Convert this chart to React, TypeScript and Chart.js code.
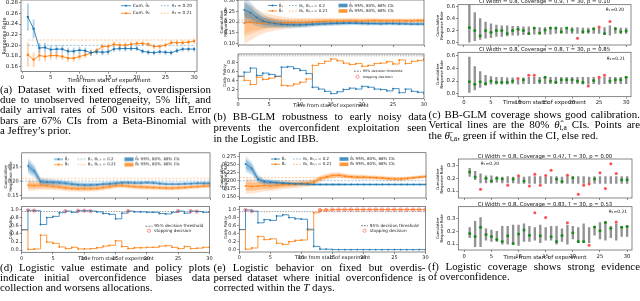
import React, { useEffect, useRef } from 'react';
import { Chart, registerables } from 'chart.js';
Chart.register(...registerables);

const BLUE = '#1f77b4';
const ORANGE = '#ff7f0e';
const GREEN = '#1a8a1a';
const RED = '#ff4d4d';
const FONT = "'DejaVu Sans', sans-serif";
const SERIF = "'Liberation Serif', 'Times New Roman', serif";

// ---------- shared axes ----------
const DAYS = [1, 2, 3, 4, 5, 6, 7, 8, 9, 10, 11, 12, 13, 14, 15, 16, 17, 18, 19, 20, 21, 22, 23, 24, 25, 26, 27, 28, 29, 30];
const DAYS0 = [0, 1, 2, 3, 4, 5, 6, 7, 8, 9, 10, 11, 12, 13, 14, 15, 16, 17, 18, 19, 20, 21, 22, 23, 24, 25, 26, 27, 28, 29, 30];
const X_TICKS = [0, 5, 10, 15, 20, 25, 30];
const THETA = [0.20, 0.21];
const THRESHOLD = 0.95;
const CI_LEVELS = [1.0, 0.654, 0.507]; // 95%, 80%, 68% relative to 95% half-width

// ---------- (a) ----------
const A_Y_TICKS = [0.16, 0.18, 0.20, 0.22, 0.24, 0.26, 0.28];
const A_MEAN1 = [0.253, 0.231, 0.195, 0.196, 0.192, 0.193, 0.193, 0.189, 0.189, 0.191, 0.190, 0.186, 0.188, 0.187, 0.188, 0.193, 0.194, 0.194, 0.194, 0.194, 0.189, 0.187, 0.186, 0.188, 0.187, 0.186, 0.190, 0.193, 0.193, 0.193];
const A_ERR1 = [0.025, 0.017, 0.009, 0.008, 0.007, 0.007, 0.006, 0.006, 0.006, 0.006, 0.005, 0.005, 0.005, 0.005, 0.005, 0.005, 0.005, 0.005, 0.004, 0.004, 0.004, 0.004, 0.004, 0.004, 0.004, 0.004, 0.004, 0.004, 0.004, 0.004];
const A_MEAN2 = [0.1825, 0.173, 0.181, 0.179, 0.181, 0.181, 0.179, 0.176, 0.176, 0.179, 0.182, 0.1855, 0.190, 0.198, 0.198, 0.202, 0.2005, 0.2005, 0.202, 0.2035, 0.2035, 0.202, 0.198, 0.198, 0.2005, 0.205, 0.205, 0.205, 0.206, 0.208];
const A_ERR2 = [0.022, 0.013, 0.010, 0.008, 0.007, 0.007, 0.006, 0.006, 0.006, 0.006, 0.005, 0.005, 0.005, 0.005, 0.005, 0.005, 0.005, 0.005, 0.004, 0.004, 0.004, 0.004, 0.004, 0.004, 0.004, 0.004, 0.004, 0.004, 0.004, 0.004];

// ---------- (b) ----------
const B_Y_TICKS = [0.10, 0.15, 0.20, 0.25, 0.30];
const POL_B_TICKS = [0.2, 0.4, 0.6, 0.8];
const B_MEAN1 = [0.258, 0.245, 0.222, 0.205, 0.198, 0.193, 0.190, 0.188, 0.187, 0.187, 0.188, 0.190, 0.191, 0.192, 0.193, 0.194, 0.195, 0.195, 0.195, 0.194, 0.193, 0.193, 0.192, 0.193, 0.193, 0.192, 0.192, 0.191, 0.191, 0.191];
const B_HW1 = [0.060, 0.050, 0.040, 0.032, 0.026, 0.022, 0.019, 0.017, 0.016, 0.015, 0.014, 0.013, 0.012, 0.012, 0.011, 0.011, 0.011, 0.010, 0.010, 0.010, 0.010, 0.009, 0.009, 0.009, 0.009, 0.009, 0.008, 0.008, 0.008, 0.008];
const B_MEAN2 = [0.195, 0.200, 0.196, 0.195, 0.197, 0.196, 0.195, 0.196, 0.197, 0.198, 0.199, 0.201, 0.203, 0.204, 0.205, 0.205, 0.205, 0.206, 0.206, 0.205, 0.206, 0.207, 0.206, 0.206, 0.206, 0.206, 0.206, 0.206, 0.207, 0.207];
const B_HW2 = [0.100, 0.085, 0.065, 0.050, 0.042, 0.036, 0.031, 0.027, 0.024, 0.022, 0.020, 0.019, 0.018, 0.017, 0.016, 0.015, 0.015, 0.014, 0.014, 0.013, 0.013, 0.013, 0.012, 0.012, 0.012, 0.012, 0.011, 0.011, 0.011, 0.011];
const B_POL1 = [0.50, 0.59, 0.68, 0.52, 0.57, 0.54, 0.50, 0.70, 0.71, 0.67, 0.63, 0.56, 0.26, 0.22, 0.17, 0.12, 0.16, 0.21, 0.24, 0.22, 0.28, 0.26, 0.22, 0.21, 0.18, 0.23, 0.14, 0.22, 0.17, 0.15, 0.12];
const B_POL2 = [0.50, 0.41, 0.32, 0.48, 0.43, 0.46, 0.50, 0.30, 0.29, 0.33, 0.37, 0.44, 0.74, 0.78, 0.83, 0.88, 0.84, 0.79, 0.76, 0.78, 0.72, 0.74, 0.78, 0.79, 0.82, 0.77, 0.86, 0.78, 0.83, 0.85, 0.88];

// ---------- (c) ----------
const COV_C_TICKS = [0.0, 0.2, 0.4, 0.6];
const C1_MEAN = [0.25, 0.20, 0.11, 0.20, 0.17, 0.20, 0.20, 0.15, 0.20, 0.22, 0.20, 0.15, 0.24, 0.16, 0.21, 0.24, 0.24, 0.18, 0.24, 0.21, 0.07, 0.18, 0.19, 0.23, 0.26, 0.15, 0.35, 0.23, 0.18, 0.19];
const C1_LO = [0.00, 0.03, 0.05, 0.07, 0.08, 0.10, 0.10, 0.11, 0.12, 0.12, 0.13, 0.13, 0.14, 0.14, 0.14, 0.14, 0.15, 0.15, 0.15, 0.15, 0.15, 0.15, 0.15, 0.15, 0.15, 0.13, 0.12, 0.15, 0.15, 0.15];
const C1_HI = [0.63, 0.50, 0.40, 0.34, 0.31, 0.29, 0.28, 0.28, 0.27, 0.27, 0.26, 0.26, 0.25, 0.25, 0.25, 0.25, 0.25, 0.25, 0.25, 0.25, 0.25, 0.24, 0.24, 0.24, 0.24, 0.25, 0.28, 0.25, 0.24, 0.24];
const C2_MEAN = [0.19, 0.15, 0.19, 0.16, 0.20, 0.18, 0.18, 0.18, 0.20, 0.24, 0.22, 0.29, 0.29, 0.20, 0.26, 0.20, 0.18, 0.22, 0.22, 0.22, 0.20, 0.18, 0.12, 0.21, 0.26, 0.29, 0.20, 0.22, 0.22, 0.26];
const C2_LO = [0.02, 0.06, 0.10, 0.13, 0.15, 0.15, 0.15, 0.15, 0.16, 0.15, 0.16, 0.16, 0.16, 0.16, 0.16, 0.16, 0.16, 0.16, 0.16, 0.16, 0.16, 0.15, 0.15, 0.16, 0.15, 0.16, 0.16, 0.16, 0.16, 0.16];
const C2_HI = [0.58, 0.43, 0.35, 0.29, 0.27, 0.26, 0.26, 0.25, 0.25, 0.22, 0.25, 0.26, 0.26, 0.26, 0.27, 0.26, 0.26, 0.26, 0.26, 0.26, 0.26, 0.26, 0.26, 0.26, 0.25, 0.26, 0.26, 0.26, 0.26, 0.27];

// ---------- (d) ----------
const D_Y_TICKS = [0.15, 0.20, 0.25];
const POL_TICKS = [0.0, 0.2, 0.4, 0.6, 0.8, 1.0];
const D_MEAN1 = [0.254, 0.236, 0.199, 0.197, 0.196, 0.195, 0.193, 0.190, 0.188, 0.187, 0.187, 0.188, 0.190, 0.191, 0.193, 0.195, 0.195, 0.194, 0.194, 0.195, 0.194, 0.192, 0.190, 0.190, 0.190, 0.191, 0.192, 0.193, 0.193, 0.193];
const D_HW1 = [0.028, 0.022, 0.014, 0.012, 0.011, 0.010, 0.009, 0.009, 0.008, 0.008, 0.008, 0.007, 0.007, 0.007, 0.007, 0.006, 0.006, 0.006, 0.006, 0.006, 0.006, 0.006, 0.005, 0.005, 0.005, 0.005, 0.005, 0.005, 0.005, 0.005];
const D_MEAN2 = [0.186, 0.185, 0.186, 0.184, 0.182, 0.180, 0.177, 0.175, 0.174, 0.174, 0.174, 0.175, 0.178, 0.181, 0.184, 0.185, 0.183, 0.181, 0.180, 0.179, 0.178, 0.177, 0.176, 0.176, 0.177, 0.178, 0.180, 0.181, 0.183, 0.184];
const D_HW2 = [0.020, 0.018, 0.016, 0.014, 0.013, 0.012, 0.012, 0.011, 0.011, 0.011, 0.010, 0.010, 0.010, 0.010, 0.009, 0.009, 0.009, 0.009, 0.009, 0.009, 0.009, 0.008, 0.008, 0.008, 0.008, 0.008, 0.008, 0.008, 0.008, 0.008];
const D_POL1 = [0.50, 0.98, 0.97, 0.63, 0.80, 0.83, 0.92, 0.96, 0.93, 0.97, 0.97, 0.96, 0.94, 0.90, 0.88, 0.77, 0.91, 0.96, 0.94, 0.94, 0.93, 0.93, 0.90, 0.89, 0.93, 0.96, 0.91, 0.96, 0.95, 0.93, 0.93];
const D_POL2 = [0.50, 0.02, 0.03, 0.37, 0.20, 0.17, 0.08, 0.04, 0.07, 0.03, 0.03, 0.04, 0.06, 0.10, 0.12, 0.23, 0.09, 0.04, 0.06, 0.06, 0.07, 0.07, 0.10, 0.11, 0.07, 0.04, 0.09, 0.04, 0.05, 0.07, 0.07];
const D_STOP1 = [1, 2, 7, 9, 10, 11, 17, 25, 27, 28];

// ---------- (e) ----------
const E_Y_TICKS = [0.150, 0.175, 0.200, 0.225, 0.250, 0.275];
const E_MEAN1 = [0.252, 0.238, 0.205, 0.197, 0.195, 0.194, 0.192, 0.191, 0.190, 0.190, 0.189, 0.188, 0.188, 0.188, 0.188, 0.188, 0.188, 0.188, 0.188, 0.188, 0.188, 0.188, 0.188, 0.188, 0.188, 0.188, 0.188, 0.188, 0.188, 0.188];
const E_HW1 = [0.025, 0.020, 0.013, 0.010, 0.009, 0.008, 0.007, 0.007, 0.006, 0.006, 0.006, 0.005, 0.005, 0.005, 0.005, 0.005, 0.004, 0.004, 0.004, 0.004, 0.004, 0.004, 0.004, 0.004, 0.004, 0.004, 0.004, 0.004, 0.004, 0.004];
const E_MEAN2 = [0.184, 0.182, 0.183, 0.185, 0.183, 0.185, 0.187, 0.188, 0.189, 0.191, 0.192, 0.196, 0.206, 0.212, 0.216, 0.217, 0.214, 0.212, 0.211, 0.211, 0.210, 0.209, 0.208, 0.206, 0.205, 0.205, 0.207, 0.209, 0.211, 0.213];
const E_HW2 = [0.025, 0.022, 0.020, 0.018, 0.016, 0.015, 0.014, 0.013, 0.012, 0.012, 0.011, 0.011, 0.010, 0.010, 0.009, 0.009, 0.008, 0.008, 0.008, 0.008, 0.007, 0.007, 0.007, 0.007, 0.007, 0.007, 0.006, 0.006, 0.006, 0.006];
const E_POL1 = [0.50, 0.99, 0.96, 0.67, 0.75, 0.73, 0.84, 0.87, 0.80, 0.77, 0.76, 0.51, 0.08, 0.01, 0.01, 0.00, 0.00, 0.00, 0.00, 0.00, 0.00, 0.00, 0.00, 0.00, 0.00, 0.00, 0.00, 0.00, 0.00, 0.00, 0.00];
const E_POL2 = [0.50, 0.01, 0.04, 0.33, 0.25, 0.27, 0.16, 0.13, 0.20, 0.23, 0.24, 0.49, 0.92, 0.99, 0.99, 1.00, 1.00, 1.00, 1.00, 1.00, 1.00, 1.00, 1.00, 1.00, 1.00, 1.00, 1.00, 1.00, 1.00, 1.00, 1.00];
const E_STOP1 = [1, 2];
const E_STOP2 = [13, 14, 15, 16, 17, 18, 19, 20, 21, 22, 23, 24, 25, 26, 27, 28, 29, 30];

// ---------- (f) ----------
const COV_F_TICKS = [0.1, 0.2, 0.3];
const F1_MEAN = [0.25, 0.21, 0.115, 0.20, 0.18, 0.20, 0.195, 0.145, 0.195, 0.22, 0.18, 0.14, 0.233, 0.145, 0.222, 0.265, 0.195, 0.175, 0.225, 0.205, 0.075, 0.145, 0.155, 0.195, 0.245, 0.12, 0.315, 0.238, 0.19, 0.19];
const F1_LO = [0.215, 0.19, 0.165, 0.165, 0.165, 0.17, 0.165, 0.165, 0.165, 0.16, 0.16, 0.16, 0.16, 0.16, 0.16, 0.16, 0.16, 0.16, 0.16, 0.16, 0.16, 0.16, 0.16, 0.16, 0.16, 0.16, 0.16, 0.16, 0.16, 0.16];
const F1_HI = [0.28, 0.255, 0.235, 0.22, 0.22, 0.215, 0.21, 0.215, 0.21, 0.21, 0.21, 0.215, 0.215, 0.215, 0.21, 0.215, 0.215, 0.21, 0.215, 0.215, 0.215, 0.215, 0.21, 0.215, 0.215, 0.215, 0.215, 0.215, 0.215, 0.215];
const F2_MEAN = [0.184, 0.16, 0.232, 0.175, 0.16, 0.135, 0.12, 0.165, 0.105, 0.18, 0.21, 0.17, 0.347, 0.165, 0.31, 0.158, 0.12, 0.168, 0.268, 0.19, 0.12, 0.12, 0.09, 0.235, 0.205, 0.27, 0.225, 0.275, 0.232, 0.238];
const F2_LO = [0.15, 0.08, 0.08, 0.13, 0.12, 0.12, 0.10, 0.10, 0.10, 0.09, 0.12, 0.12, 0.13, 0.11, 0.13, 0.13, 0.10, 0.12, 0.10, 0.14, 0.11, 0.11, 0.11, 0.17, 0.14, 0.13, 0.15, 0.13, 0.16, 0.16];
const F2_HI = [0.23, 0.28, 0.31, 0.22, 0.21, 0.20, 0.24, 0.24, 0.25, 0.25, 0.26, 0.24, 0.23, 0.25, 0.23, 0.24, 0.24, 0.22, 0.25, 0.24, 0.23, 0.26, 0.23, 0.24, 0.27, 0.28, 0.24, 0.26, 0.24, 0.245];

// ---------- helpers ----------
function rgba(hex: string, a: number) {
  const n = parseInt(hex.slice(1), 16);
  return `rgba(${(n >> 16) & 255},${(n >> 8) & 255},${n & 255},${a})`;
}
const pts = (xs: number[], ys: number[]) => xs.map((x, i) => ({ x, y: ys[i] }));

function meanLine(ys: number[], color: string, r = 0.9, w = 0.8) {
  return { type: 'line', data: pts(DAYS, ys), borderColor: color, backgroundColor: color, borderWidth: w, pointRadius: r, pointBorderWidth: 0, pointBackgroundColor: color, tension: 0, order: 1 };
}
function hline(v: number, x0: number, x1: number, color: string, dash = [2, 1.5], w = 0.7) {
  return { type: 'line', data: [{ x: x0, y: v }, { x: x1, y: v }], borderColor: color, borderWidth: w, borderDash: dash, pointRadius: 0, order: 3 };
}
function bands(mean: number[], hw: number[], color: string, alpha = 0.2) {
  const out: any[] = [];
  CI_LEVELS.forEach((f) => {
    out.push({ type: 'line', data: pts(DAYS, mean.map((m, i) => m - hw[i] * f)), borderWidth: 0, pointRadius: 0, fill: false, order: 10 });
    out.push({ type: 'line', data: pts(DAYS, mean.map((m, i) => m + hw[i] * f)), borderWidth: 0, pointRadius: 0, fill: '-1', backgroundColor: rgba(color, alpha), order: 10 });
  });
  return out;
}
function errBars(mean: number[], err: number[], color: string) {
  return { type: 'bar', data: DAYS.map((x, i) => ({ x, y: [mean[i] - err[i], mean[i] + err[i]] })), backgroundColor: rgba(color, 0.35), borderWidth: 0, barThickness: 1.2, grouped: false, order: 5 };
}
function stepLine(ys: number[], color: string) {
  return { type: 'line', data: pts(DAYS0, ys), stepped: 'before', borderColor: color, borderWidth: 0.8, pointRadius: 0.9, pointBorderWidth: 0, pointBackgroundColor: color, order: 2 };
}
function stops(days: number[], pol: number[]) {
  return { type: 'scatter', data: days.map((d) => ({ x: d, y: pol[d] })), pointRadius: 1.7, pointBorderWidth: 0.6, pointBorderColor: 'rgba(255,60,60,0.9)', pointBackgroundColor: 'rgba(0,0,0,0)', order: 0 };
}
function coverage(mean: number[], lo: number[], hi: number[]) {
  return [
    { type: 'bar', data: DAYS.map((x, i) => ({ x, y: [lo[i], hi[i]] })), backgroundColor: 'rgba(110,110,110,0.75)', borderWidth: 0, barThickness: 1.7, grouped: false, order: 5 },
    { type: 'scatter', data: pts(DAYS, mean), pointRadius: 1.5, pointBorderWidth: 0, pointBackgroundColor: mean.map((m, i) => (m >= lo[i] && m <= hi[i] ? GREEN : RED)), order: 1 },
  ];
}

type TextItem = { text: string; x: number; y: number; size: number; rot?: boolean; align?: CanvasTextAlign; color?: string };
type LegItem = { kind: string; color: string; label: string; x: number; y: number; w: number; size: number };
type Spec = {
  frame: number[]; box: number[];
  x: { min: number; max: number; ticks: number[]; labels: boolean };
  y: { min: number; max: number; ticks: number[]; dec: number };
  tickSize: number; datasets: any[]; texts?: TextItem[]; legend?: LegItem[];
};

function drawLegendItem(ctx: CanvasRenderingContext2D, it: LegItem, ox: number, oy: number) {
  const x = it.x - ox, y = it.y - oy;
  ctx.save();
  if (it.kind === 'line') {
    ctx.strokeStyle = it.color; ctx.lineWidth = 0.8;
    ctx.beginPath(); ctx.moveTo(x, y); ctx.lineTo(x + it.w, y); ctx.stroke();
    ctx.fillStyle = it.color; ctx.beginPath(); ctx.arc(x + it.w / 2, y, 1, 0, Math.PI * 2); ctx.fill();
  } else if (it.kind === 'dash') {
    ctx.strokeStyle = it.color; ctx.lineWidth = 0.8; ctx.setLineDash([1.8, 1.2]);
    ctx.beginPath(); ctx.moveTo(x, y); ctx.lineTo(x + it.w, y); ctx.stroke();
  } else if (it.kind === 'box') {
    ctx.fillStyle = it.color; ctx.fillRect(x, y - 1.8, it.w, 3.6);
  } else if (it.kind === 'circle') {
    ctx.strokeStyle = it.color; ctx.lineWidth = 0.6;
    ctx.beginPath(); ctx.arc(x + it.w / 2, y, 1.6, 0, Math.PI * 2); ctx.stroke();
  }
  ctx.setLineDash([]);
  ctx.fillStyle = '#222'; ctx.font = `${it.size}px ${FONT}`; ctx.textBaseline = 'middle'; ctx.textAlign = 'left';
  ctx.fillText(it.label, x + it.w + 1.8, y);
  ctx.restore();
}
function drawText(ctx: CanvasRenderingContext2D, t: TextItem, ox: number, oy: number) {
  ctx.save();
  ctx.fillStyle = t.color || '#111';
  ctx.font = `${t.size}px ${FONT}`;
  ctx.textBaseline = 'middle';
  ctx.textAlign = t.align || 'center';
  ctx.translate(t.x - ox, t.y - oy);
  if (t.rot) ctx.rotate(-Math.PI / 2);
  ctx.fillText(t.text, 0, 0);
  ctx.restore();
}

function Panel({ spec }: { spec: Spec }) {
  const ref = useRef<HTMLCanvasElement>(null);
  const [bl, bt, br, bb] = spec.box;
  const [fl, ft, fr, fb] = spec.frame;
  useEffect(() => {
    const deco = {
      id: 'deco',
      afterDraw(chart: any) {
        const ctx = chart.ctx, a = chart.chartArea;
        ctx.save();
        ctx.strokeStyle = '#555'; ctx.lineWidth = 0.7;
        ctx.strokeRect(a.left, a.top, a.right - a.left, a.bottom - a.top);
        (spec.legend || []).forEach((it) => drawLegendItem(ctx, it, bl, bt));
        (spec.texts || []).forEach((t) => drawText(ctx, t, bl, bt));
        ctx.restore();
      },
    };
    const tickFont = { family: FONT, size: spec.tickSize };
    const grid = { display: true, drawOnChartArea: false, drawTicks: true, tickLength: 2, color: '#444', lineWidth: 0.6, offset: false };
    const chart = new Chart(ref.current as HTMLCanvasElement, {
      type: 'scatter',
      data: { datasets: spec.datasets },
      options: {
        animation: false, responsive: false, events: [],
        layout: { padding: { top: ft - bt, right: br - fr, left: 0, bottom: 0 } },
        plugins: { legend: { display: false }, tooltip: { enabled: false }, title: { display: false } },
        scales: {
          x: {
            type: 'linear', min: spec.x.min, max: spec.x.max, offset: false, bounds: 'data', grid, border: { display: false },
            ticks: { autoSkip: false, maxRotation: 0, minRotation: 0, padding: 1, font: tickFont, color: '#222', callback: (v: any) => (spec.x.labels ? String(v) : '') },
            afterBuildTicks: (s: any) => { s.ticks = spec.x.ticks.map((v) => ({ value: v })); },
            afterFit: (s: any) => { s.height = bb - fb; s.paddingLeft = 0; s.paddingRight = 0; s.paddingTop = 0; s.paddingBottom = 0; },
          },
          y: {
            type: 'linear', min: spec.y.min, max: spec.y.max, offset: false, bounds: 'data', grid, border: { display: false },
            ticks: { autoSkip: false, padding: 1, font: tickFont, color: '#222', callback: (v: any) => Number(v).toFixed(spec.y.dec) },
            afterBuildTicks: (s: any) => { s.ticks = spec.y.ticks.map((v) => ({ value: v })); },
            afterFit: (s: any) => { s.width = fl - bl; s.paddingLeft = 0; s.paddingRight = 0; s.paddingTop = 0; s.paddingBottom = 0; },
          },
        },
      } as any,
      plugins: [deco],
    } as any);
    return () => chart.destroy();
  }, []);
  return <canvas ref={ref} width={br - bl} height={bb - bt} style={{ position: 'absolute', left: bl, top: bt, width: br - bl, height: bb - bt }} />;
}

// ---------- labels ----------
const H1 = 'θ\u0302\u2081';
const H2 = 'θ\u0302\u2082';
const XT = 'Time from start of experiment';

const topLegend = (x1: number, x2: number, x3: number, y1: number, y2: number): LegItem[] => [
  { kind: 'line', color: BLUE, label: H1, x: x1, y: y1, w: 9, size: 4 },
  { kind: 'line', color: ORANGE, label: H2, x: x1, y: y2, w: 9, size: 4 },
  { kind: 'dash', color: rgba(BLUE, 0.6), label: 'θ\u2081, θ\u2081,\u2081 = 0.2', x: x2, y: y1, w: 8.5, size: 4 },
  { kind: 'dash', color: rgba(ORANGE, 0.6), label: 'θ\u2082, θ\u2082,\u2081 = 0.21', x: x2, y: y2, w: 8.5, size: 4 },
  { kind: 'box', color: rgba(BLUE, 0.8), label: H1 + ' 95%, 80%, 68% CIs', x: x3, y: y1, w: 9, size: 4 },
  { kind: 'box', color: rgba(ORANGE, 0.8), label: H2 + ' 95%, 80%, 68% CIs', x: x3, y: y2, w: 9, size: 4 },
];
const polLegend = (x: number, y1: number, y2: number, size: number): LegItem[] => [
  { kind: 'dash', color: '#555', label: '95% decision threshold', x, y: y1, w: 7, size },
  { kind: 'circle', color: 'rgba(255,60,60,0.9)', label: 'stopping decision', x, y: y2, w: 7, size },
];

const SPECS: Spec[] = [
  // (a)
  {
    frame: [21, -1, 197, 71.5], box: [0, -4, 206, 86],
    x: { min: -0.2, max: 30.5, ticks: X_TICKS, labels: true },
    y: { min: 0.151, max: 0.285, ticks: A_Y_TICKS, dec: 2 }, tickSize: 5.5,
    datasets: [
      meanLine(A_MEAN1, BLUE, 1.2, 0.9), meanLine(A_MEAN2, ORANGE, 1.2, 0.9),
      hline(THETA[0], 1, 30, rgba(BLUE, 0.55), [2.2, 1.6], 0.8), hline(THETA[1], 1, 30, rgba(ORANGE, 0.55), [2.2, 1.6], 0.8),
      errBars(A_MEAN1, A_ERR1, BLUE), errBars(A_MEAN2, A_ERR2, ORANGE),
    ],
    legend: [
      { kind: 'line', color: BLUE, label: 'Cum. ' + H1, x: 121, y: 5.7, w: 10, size: 4.3 },
      { kind: 'line', color: ORANGE, label: 'Cum. ' + H2, x: 121, y: 13.3, w: 10, size: 4.3 },
      { kind: 'dash', color: rgba(BLUE, 0.6), label: 'θ\u2081 = 0.20', x: 161, y: 5.7, w: 9, size: 4.3 },
      { kind: 'dash', color: rgba(ORANGE, 0.6), label: 'θ\u2082 = 0.21', x: 161, y: 13.3, w: 9, size: 4.3 },
    ],
    texts: [
      { text: 'Response Rate', x: 5, y: 36, size: 5, rot: true },
      { text: XT, x: 109, y: 80.5, size: 5.5 },
    ],
  },
  // (b) top
  {
    frame: [238, -1, 424, 46.5], box: [215, -4, 430, 49],
    x: { min: 0, max: 30, ticks: X_TICKS, labels: false },
    y: { min: 0.092, max: 0.3045, ticks: B_Y_TICKS, dec: 2 }, tickSize: 5,
    datasets: [
      meanLine(B_MEAN1, BLUE), meanLine(B_MEAN2, ORANGE),
      hline(THETA[0], 0, 30, rgba(BLUE, 0.6)), hline(THETA[1], 0, 30, rgba(ORANGE, 0.6)),
      ...bands(B_MEAN1, B_HW1, BLUE), ...bands(B_MEAN2, B_HW2, ORANGE),
    ],
    legend: topLegend(268, 289, 338.5, 5.5, 11),
    texts: [
      { text: 'Cumulative', x: 221.5, y: 22, size: 4, rot: true },
      { text: 'Response Rate', x: 226, y: 22, size: 4, rot: true },
    ],
  },
  // (b) bottom
  {
    frame: [238, 50.7, 424, 98.7], box: [215, 49.5, 430, 109],
    x: { min: 0, max: 30, ticks: X_TICKS, labels: true },
    y: { min: 0.008, max: 0.99, ticks: POL_B_TICKS, dec: 1 }, tickSize: 5,
    datasets: [stepLine(B_POL1, BLUE), stepLine(B_POL2, ORANGE), hline(THRESHOLD, 0, 30, 'rgba(90,90,90,0.8)', [1.5, 1.2], 0.6)],
    legend: polLegend(354, 70.7, 76.3, 3.4),
    texts: [
      { text: 'Daily Policy', x: 225, y: 75, size: 4, rot: true },
      { text: XT, x: 331, y: 105, size: 5 },
    ],
  },
  // (c) top
  {
    frame: [458, 4.7, 631, 46.7], box: [430, -4, 640, 49],
    x: { min: -1.1, max: 30.9, ticks: X_TICKS, labels: false },
    y: { min: -0.043, max: 0.632, ticks: COV_C_TICKS, dec: 1 }, tickSize: 5.3,
    datasets: coverage(C1_MEAN, C1_LO, C1_HI),
    texts: [
      { text: 'CI Width = 0.8, Coverage = 0.9, T = 30, p = 0.10', x: 544.5, y: 1.3, size: 5.3 },
      { text: 'Cumulative', x: 438.5, y: 25.7, size: 3.8, rot: true },
      { text: 'Response Rate', x: 442.5, y: 25.7, size: 3.8, rot: true },
      { text: 'θ\u2081=0.20', x: 615, y: 10, size: 4.5 },
    ],
  },
  // (c) bottom
  {
    frame: [458, 52.3, 631, 96.7], box: [430, 47, 640, 107],
    x: { min: -1.1, max: 30.9, ticks: X_TICKS, labels: true },
    y: { min: -0.047, max: 0.654, ticks: COV_C_TICKS, dec: 1 }, tickSize: 5.3,
    datasets: coverage(C2_MEAN, C2_LO, C2_HI),
    texts: [
      { text: 'CI Width = 0.8, Coverage = 0.8, T = 30, p = 0.85', x: 544.5, y: 49.3, size: 5.3 },
      { text: 'Cumulative', x: 438.5, y: 74.5, size: 3.8, rot: true },
      { text: 'Response Rate', x: 442.5, y: 74.5, size: 3.8, rot: true },
      { text: 'θ\u2082=0.21', x: 616, y: 59.3, size: 4.5 },
      { text: XT, x: 544.5, y: 102.7, size: 5.5 },
    ],
  },
  // (d) top
  {
    frame: [21.7, 152.7, 210.5, 200], box: [0, 145, 214, 201.5],
    x: { min: 0, max: 30, ticks: X_TICKS, labels: false },
    y: { min: 0.141, max: 0.30, ticks: D_Y_TICKS, dec: 2 }, tickSize: 5,
    datasets: [
      meanLine(D_MEAN1, BLUE), meanLine(D_MEAN2, ORANGE),
      hline(THETA[0], 0, 30, rgba(BLUE, 0.6)), hline(THETA[1], 0, 30, rgba(ORANGE, 0.6)),
      ...bands(D_MEAN1, D_HW1, BLUE), ...bands(D_MEAN2, D_HW2, ORANGE),
    ],
    legend: topLegend(54, 77.5, 124.5, 159, 164.3),
    texts: [
      { text: 'Cumulative', x: 6, y: 176, size: 4, rot: true },
      { text: 'Response Rate', x: 10.5, y: 176, size: 4, rot: true },
    ],
  },
  // (d) bottom
  {
    frame: [21.7, 202.5, 210.5, 252.3], box: [0, 201.5, 214, 262],
    x: { min: 0, max: 30, ticks: X_TICKS, labels: true },
    y: { min: -0.052, max: 1.07, ticks: POL_TICKS, dec: 1 }, tickSize: 5,
    datasets: [stepLine(D_POL1, BLUE), stepLine(D_POL2, ORANGE), hline(THRESHOLD, 0, 30, 'rgba(70,70,70,0.85)', [1.5, 1.2], 0.6), stops(D_STOP1, D_POL1)],
    legend: polLegend(145.5, 225.7, 230.3, 4.2),
    texts: [
      { text: 'Daily Policy', x: 10.5, y: 227.5, size: 4, rot: true },
      { text: XT, x: 116, y: 258.5, size: 5 },
    ],
  },
  // (e) top
  {
    frame: [239.3, 152.7, 426, 200.7], box: [215, 145, 430, 202],
    x: { min: 0, max: 30, ticks: X_TICKS, labels: false },
    y: { min: 0.146, max: 0.287, ticks: E_Y_TICKS, dec: 3 }, tickSize: 5,
    datasets: [
      meanLine(E_MEAN1, BLUE), meanLine(E_MEAN2, ORANGE),
      hline(THETA[0], 0, 30, rgba(BLUE, 0.6)), hline(THETA[1], 0, 30, rgba(ORANGE, 0.6)),
      ...bands(E_MEAN1, E_HW1, BLUE), ...bands(E_MEAN2, E_HW2, ORANGE),
    ],
    legend: topLegend(271, 293, 339.5, 159, 164.3),
    texts: [
      { text: 'Cumulative', x: 221.5, y: 176, size: 4, rot: true },
      { text: 'Response Rate', x: 226, y: 176, size: 4, rot: true },
    ],
  },
  // (e) bottom
  {
    frame: [239.3, 202.7, 426, 252], box: [215, 202, 430, 262],
    x: { min: 0, max: 30, ticks: X_TICKS, labels: true },
    y: { min: -0.06, max: 1.075, ticks: POL_TICKS, dec: 1 }, tickSize: 5,
    datasets: [stepLine(E_POL1, BLUE), stepLine(E_POL2, ORANGE), hline(THRESHOLD, 0, 30, 'rgba(70,70,70,0.85)', [1.5, 1.2], 0.6), stops(E_STOP1, E_POL1), stops(E_STOP2, E_POL2)],
    legend: polLegend(361, 225.7, 230.7, 4.2),
    texts: [
      { text: 'Daily Policy', x: 226, y: 227.5, size: 4, rot: true },
      { text: XT, x: 332.5, y: 258, size: 5 },
    ],
  },
  // (f) top
  {
    frame: [458.3, 159, 632, 200], box: [430, 150, 640, 202],
    x: { min: -1.1, max: 30.9, ticks: X_TICKS, labels: false },
    y: { min: 0.045, max: 0.353, ticks: COV_F_TICKS, dec: 1 }, tickSize: 5.3,
    datasets: coverage(F1_MEAN, F1_LO, F1_HI),
    texts: [
      { text: 'CI Width = 0.8, Coverage = 0.47, T = 30, p = 0.00', x: 545, y: 156.5, size: 5.3 },
      { text: 'Cumulative', x: 438.5, y: 179.5, size: 3.8, rot: true },
      { text: 'Response Rate', x: 442.5, y: 179.5, size: 3.8, rot: true },
      { text: 'θ\u2081=0.20', x: 490, y: 164, size: 4.5 },
    ],
  },
  // (f) bottom
  {
    frame: [458.3, 206.7, 632, 250], box: [430, 202, 640, 262],
    x: { min: -1.1, max: 30.9, ticks: X_TICKS, labels: true },
    y: { min: 0.053, max: 0.395, ticks: COV_F_TICKS, dec: 1 }, tickSize: 5.3,
    datasets: coverage(F2_MEAN, F2_LO, F2_HI),
    texts: [
      { text: 'CI Width = 0.8, Coverage = 0.83, T = 30, p = 0.53', x: 545, y: 204.3, size: 5.3 },
      { text: 'Cumulative', x: 438.5, y: 228.4, size: 3.8, rot: true },
      { text: 'Response Rate', x: 442.5, y: 228.4, size: 3.8, rot: true },
      { text: 'θ\u2082=0.21', x: 618, y: 211.7, size: 4.5 },
      { text: XT, x: 545, y: 257.7, size: 5.5 },
    ],
  },
];

const sub: React.CSSProperties = { fontSize: '7.5px', verticalAlign: '-2px', lineHeight: 0 };

type Cap = { x: number; y: number; w: number; lh: number; lines: React.ReactNode[] };
const CAPTIONS: Cap[] = [
  { x: 0, y: 84.3, w: 211, lh: 10.1, lines: [
    '(a) Dataset with fixed effects, overdispersion',
    'due to unobserved heterogeneity, 5% lift, and',
    'daily arrival rates of 500 visitors each. Error',
    'bars are 67% CIs from a Beta-Binomial with',
    'a Jeffrey\u2019s prior.',
  ] },
  { x: 213.5, y: 111, w: 213, lh: 10.8, lines: [
    '(b) BB-GLM robustness to early noisy data',
    'prevents the overconfident exploitation seen',
    'in the Logistic and IBB.',
  ] },
  { x: 428.5, y: 109.3, w: 211.5, lh: 10.2, lines: [
    '(c) BB-GLM coverage shows good calibration.',
    <>Vertical lines are the 80% <i>θ̂</i><sub style={sub}>t,a</sub> CIs. Points are</>,
    <>the <i>θ̄</i><sub style={sub}>t,a</sub>, green if within the CI, else red.</>,
  ] },
  { x: 0, y: 261.6, w: 210, lh: 10, lines: [
    '(d) Logistic value estimate and policy plots',
    'indicate initial overconfidence biases data',
    'collection and worsens allocations.',
  ] },
  { x: 213.5, y: 261.6, w: 212, lh: 10, lines: [
    '(e) Logistic behavior on fixed but overdis-',
    'persed dataset where initial overconfidence is',
    <>corrected within the <i>T</i> days.</>,
  ] },
  { x: 428, y: 261, w: 212, lh: 10.4, lines: [
    '(f) Logistic coverage shows strong evidence',
    'of overconfidence.',
  ] },
];

function Caption({ c }: { c: Cap }) {
  return (
    <div style={{ position: 'absolute', left: c.x, top: c.y, width: c.w, fontFamily: SERIF, fontSize: '10.9px', lineHeight: c.lh + 'px', color: '#000' }}>
      {c.lines.map((ln, i) => (
        <div key={i} style={{ textAlign: 'justify', textAlignLast: i < c.lines.length - 1 ? 'justify' : 'left', height: c.lh }}>{ln}</div>
      ))}
    </div>
  );
}

export default function App() {
  return (
    <div style={{ position: 'fixed', left: 0, top: 0, width: 640, height: 301, overflow: 'hidden', background: '#fff' }}>
      {SPECS.map((s, i) => <Panel key={i} spec={s} />)}
      {CAPTIONS.map((c, i) => <Caption key={i} c={c} />)}
    </div>
  );
}
